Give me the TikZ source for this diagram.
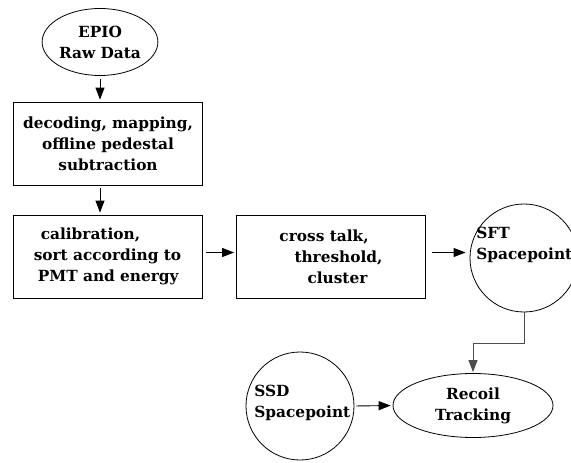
\documentclass[tikz,border=0pt]{standalone}
\usepackage{fontspec}
\setmainfont{DejaVu Serif}
\usepackage{tikz}
\usetikzlibrary{arrows.meta}
\usetikzlibrary{shapes.geometric}
\usetikzlibrary{positioning}
\tikzset{stepbox/.style = {draw, rectangle, minimum width = 189bp, minimum height = 83bp, inner sep = 0}}
\tikzset{oval/.style = {draw, ellipse, inner sep = 0}}
\tikzset{spot/.style = {draw, circle, minimum size = 108bp, inner sep = 0}}
\tikzset{txt/.style = {inner sep = 0, align = left}}
\tikzset{flow/.style = {-{Triangle[length = 12bp, width = 9bp]}, line width = 0.9bp}}

\begin{document}
\begin{tikzpicture}[x = 1bp, y = -1bp, line width = 0.8bp,
    font = \fontsize{15.4}{21}\selectfont\bfseries]
    \useasboundingbox (0, 0) rectangle (571, 463);

    \node [oval, minimum width = 108bp, minimum height = 67bp, align = center] (epio) at (100, 42) {EPIO\\Raw Data};

    \node [stepbox, align = center] (decode) at (108, 143.5) {decoding, mapping,\\offline pedestal\\subtraction};
    \node [stepbox, align = left] (calib) at (107.5, 256.5) {\hspace*{7bp}calibration,\\sort according to\\\hspace*{4bp}PMT and energy};
    \node [stepbox, align = left] (cross) at (331, 256.5) {cross talk,\\\hspace*{15bp}threshold,\hspace*{12bp}\\\hspace*{28bp}cluster};

    % spacepoints
    \node [spot] (sft) at (524, 258) {};
    \node [txt, anchor = west] (sfttxt) at (476, 245) {SFT\\Spacepoint};
    \node [spot] (ssd) at (300, 406) {};
    \node [txt, anchor = west] (ssdtxt) at (254, 403) {SSD\\Spacepoint};

    \node [oval, minimum width = 160bp, minimum height = 64bp, align = center] (recoil) at (473, 405.5) {Recoil\\Tracking};

    \coordinate (bend) at (524, 343);

    \draw [flow, shorten <= 3bp, shorten >= 2bp] (epio.south) -- (epio.south |- decode.north);
    \draw [flow, shorten <= 3bp, shorten >= 2bp] (decode.south -| epio.south) -- (calib.north -| epio.south);
    \draw [flow, shorten <= 4bp, shorten >= 2bp] ([yshift = 4bp]calib.east) -- ([yshift = 4bp]cross.west);
    \draw [flow, shorten <= 6bp, shorten >= 4bp] ([yshift = 4bp]cross.east) -- ([yshift = 4bp]cross.east -| sft.west);
    \draw [flow, black!70, shorten >= 1bp] (sft.south) -- (bend) -| (recoil.north);
    \draw [flow, shorten <= 2bp, shorten >= 2bp] (ssd.east) -- (recoil.west);
\end{tikzpicture}
\end{document}
